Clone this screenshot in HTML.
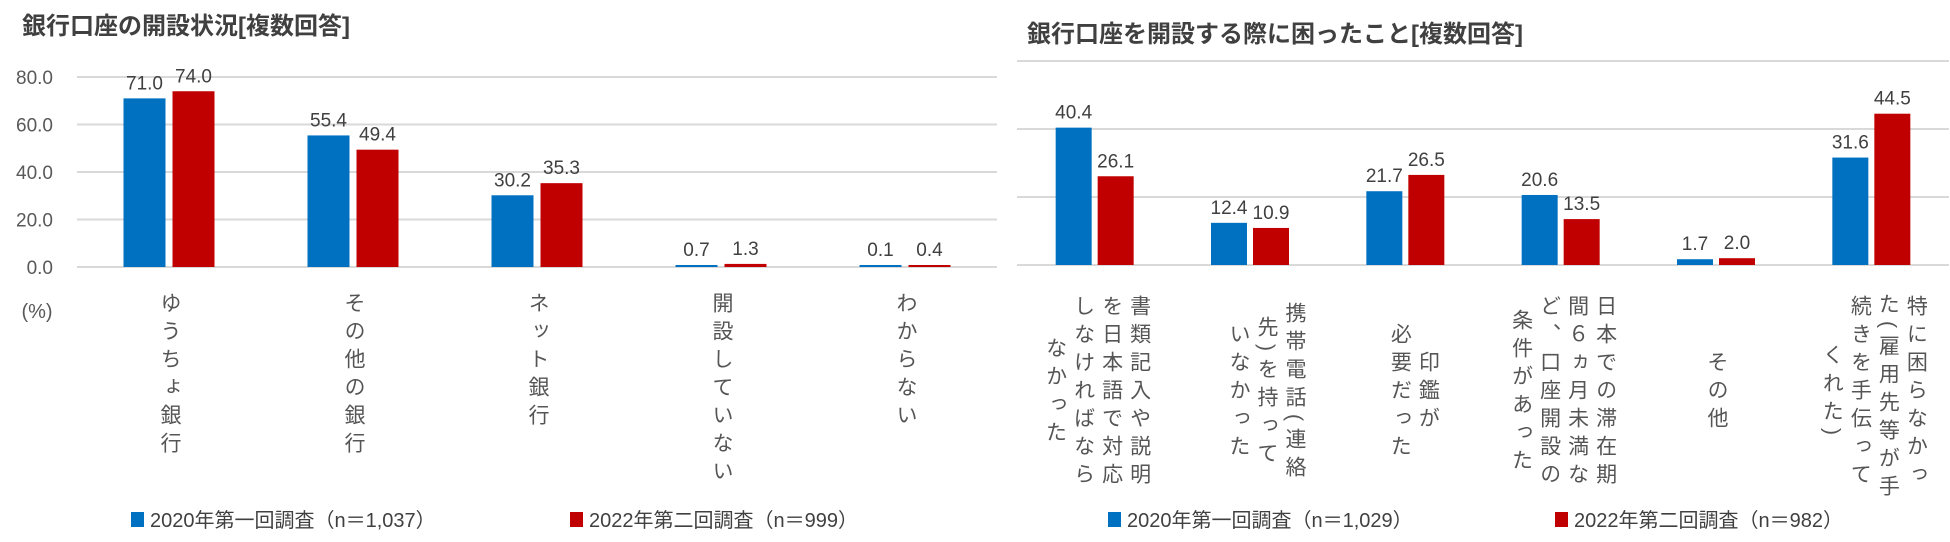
<!DOCTYPE html>
<html lang="ja"><head><meta charset="utf-8">
<style>
html,body{margin:0;padding:0;background:#fff;}
body{width:1950px;height:542px;overflow:hidden;position:relative;font-family:"Liberation Sans","Noto Sans CJK JP",sans-serif;color:#404040;}
svg{position:absolute;left:0;top:0;}
.lbl{position:absolute;writing-mode:vertical-rl;font-size:21px;line-height:28px;letter-spacing:7px;color:#555;white-space:nowrap;}
</style></head>
<body>
<svg id="chart" width="1950" height="542"></svg>
<div id="labels"></div>
<script>
// ---- Left chart data ----
const leftCategories = ["ゆうちょ銀行","その他の銀行","ネット銀行","開設していない","わからない"];
const left2020 = [71.0, 55.4, 30.2, 0.7, 0.1];
const left2022 = [74.0, 49.4, 35.3, 1.3, 0.4];
const leftTicks = [0, 20, 40, 60, 80];
const leftTickLabels = ["0.0","20.0","40.0","60.0","80.0"];
// ---- Right chart data ----
const rightCategories = [
  ["書類記入や説明","を日本語で対応","しなければなら","なかった"],
  ["携帯電話(連絡","先)を持って","いなかった"],
  ["印鑑が","必要だった"],
  ["日本での滞在期","間６ヵ月未満な","ど、口座開設の","条件があった"],
  ["その他"],
  ["特に困らなかっ","た(雇用先等が手","続きを手伝って","くれた)"]
];
const right2020 = [40.4, 12.4, 21.7, 20.6, 1.7, 31.6];
const right2022 = [26.1, 10.9, 26.5, 13.5, 2.0, 44.5];
const rightTicks = [0, 20, 40, 60];

const NS = "http://www.w3.org/2000/svg";
const svg = document.getElementById("chart");
const labels = document.getElementById("labels");
const BLUE = "#0070c0", RED = "#c00000", GRID = "#d9d9d9";
function mk(tag, attrs, parent){
  const e = document.createElementNS(NS, tag);
  for (const k in attrs) e.setAttribute(k, attrs[k]);
  (parent||svg).appendChild(e); return e;
}
function txt(x,y,s,size,anchor,weight,fill){
  const t = mk("text",{x:x,y:y,"font-size":size,"text-anchor":anchor||"middle","font-weight":weight||"normal",fill:fill||"#404040","font-family":'"Liberation Sans","Noto Sans CJK JP",sans-serif'});
  t.textContent = s; return t;
}

function drawChart(cfg){
  const {x0,x1,y0,pxPerUnit,cats,s1,s2,ticks,tickLabels,barW,gap,prefix} = cfg;
  const n = s1.length, band = (x1-x0)/n;
  const xc = i => x0 + band*(i+0.5);
  const y = v => y0 - v*pxPerUnit;
  ticks.forEach((t,i)=>{
    const l = mk("line",{x1:x0,x2:x1,y1:y(t),y2:y(t),stroke:GRID,"stroke-width":2});
    
    
    if (tickLabels){
      const tl = txt(53, y(t)+7, tickLabels[i], 19, "end", "normal", "#595959");
      
      
    }
  });
  for (let i=0;i<n;i++){
    [[s1,BLUE,-1,'2020'],[s2,RED,1,'2022']].forEach(([s,col,dir,yr])=>{
      const bx = dir<0 ? xc(i)-gap/2-barW : xc(i)+gap/2;
      const h = Math.max(s[i]*pxPerUnit, 2);
      const r = mk("rect",{x:bx,y:y0-h,width:barW,height:h,fill:col});
      
      
      const v = txt(bx+barW/2, y0-h-9, s[i].toFixed(1), 19, "middle", "normal", "#404040");
      
      
    });
  }
  return xc;
}

// titles
const t1 = txt(22, 34, "銀行口座の開設状況[複数回答]", 24, "start", "bold", "#404040");


const t2 = txt(1027, 42, "銀行口座を開設する際に困ったこと[複数回答]", 24, "start", "bold", "#404040");


const pct = txt(37, 318, "(%)", 20, "middle", "normal", "#595959");



const lxc = drawChart({x0:77,x1:997,y0:267,pxPerUnit:190/80,cats:leftCategories,s1:left2020,s2:left2022,ticks:leftTicks,tickLabels:leftTickLabels,barW:42,gap:7,prefix:'left-'});
const rxc = drawChart({x0:1017,x1:1949,y0:265,pxPerUnit:68/20,cats:rightCategories,s1:right2020,s2:right2022,ticks:rightTicks,tickLabels:null,barW:36,gap:6,prefix:'right-'});

// left labels (top aligned, single column)
leftCategories.forEach((c,i)=>{
  const d = document.createElement("div");
  d.className = "lbl";
  
  
  d.textContent = c;
  d.style.left = (lxc(i)-14)+"px";
  d.style.top = "292px";
  labels.appendChild(d);
});
// right labels (centered in 7-char box)
rightCategories.forEach((lines,i)=>{
  const d = document.createElement("div");
  d.className = "lbl";
  
  
  d.style.height = "200px";
  d.style.textAlign = "center";
  d.style.lineHeight = "28px";
  d.innerHTML = lines.join("<br>");
  const w = lines.length*28;
  d.style.left = (rxc(i)+58-w)+"px";
  if (lines.length===1) d.style.left = (rxc(i)-14)+"px";
  if (i===2) d.style.left = (rxc(i)-20)+"px";
  d.style.top = "293px";
  labels.appendChild(d);
});

// legends
function legend(x, y, col, label, name){
  const r = mk("rect",{x:x,y:y,width:13,height:15,fill:col});
  
  
  const t = txt(x+19, y+15, label, 20, "start", "normal", "#404040");
  
  
}
legend(131, 512, BLUE, "2020年第一回調査（n＝1,037）", "left-legend-2020");
legend(570, 512, RED, "2022年第二回調査（n＝999）", "left-legend-2022");
legend(1108, 512, BLUE, "2020年第一回調査（n＝1,029）", "right-legend-2020");
legend(1555, 512, RED, "2022年第二回調査（n＝982）", "right-legend-2022");
</script>
</body></html>
